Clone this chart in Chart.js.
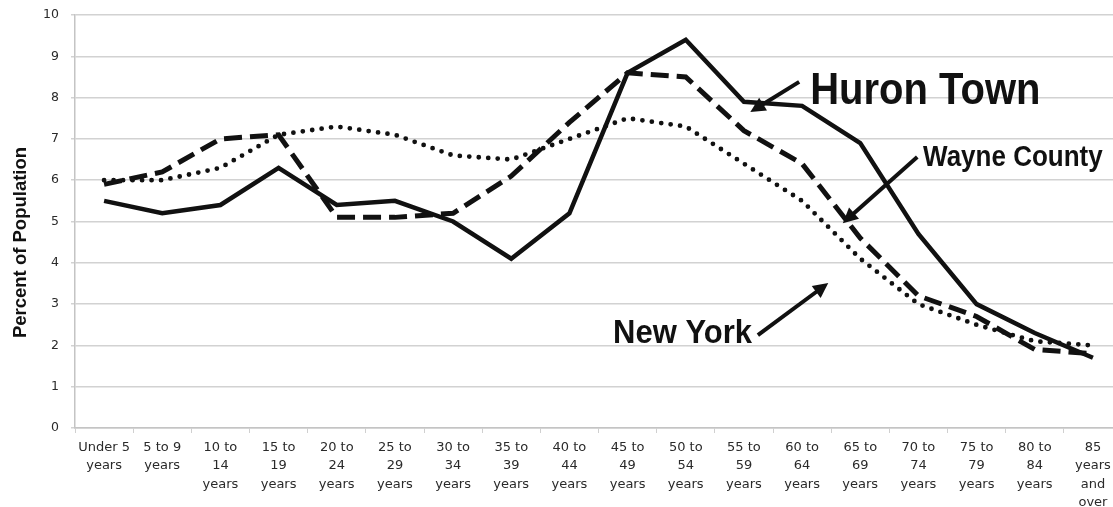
<!DOCTYPE html>
<html>
<head>
<meta charset="utf-8">
<title>Percent of Population by Age</title>
<script src="https://cdn.jsdelivr.net/npm/chart.js@4.4.1/dist/chart.umd.min.js"></script>
<style>
  html, body { margin: 0; padding: 0; background: #ffffff; overflow: hidden; }
  #wrap { width: 1126px; height: 507px; }
</style>
</head>
<body>
<div id="wrap"><canvas id="chart" width="1126" height="507"></canvas></div>
<script>
// Age groups (multi-line axis labels)
const ageGroups = [
  ["Under 5", "years"], ["5 to 9", "years"], ["10 to", "14", "years"], ["15 to", "19", "years"],
  ["20 to", "24", "years"], ["25 to", "29", "years"], ["30 to", "34", "years"], ["35 to", "39", "years"],
  ["40 to", "44", "years"], ["45 to", "49", "years"], ["50 to", "54", "years"], ["55 to", "59", "years"],
  ["60 to", "64", "years"], ["65 to", "69", "years"], ["70 to", "74", "years"], ["75 to", "79", "years"],
  ["80 to", "84", "years"], ["85", "years", "and", "over"]
];

// Percent of population in each age group
const huronTown   = [5.5, 5.2, 5.4, 6.3, 5.4, 5.5, 5.0, 4.1, 5.2, 8.6, 9.4, 7.9, 7.8, 6.9, 4.7, 3.0, 2.3, 1.7];
const wayneCounty = [5.9, 6.2, 7.0, 7.1, 5.1, 5.1, 5.2, 6.1, 7.4, 8.6, 8.5, 7.2, 6.4, 4.6, 3.2, 2.7, 1.9, 1.8];
const newYork     = [6.0, 6.0, 6.3, 7.1, 7.3, 7.1, 6.6, 6.5, 7.0, 7.5, 7.3, 6.4, 5.5, 4.1, 3.0, 2.5, 2.1, 2.0];

// Value axis range
const yMin = 0, yMax = 10, yStep = 1;
const yTitle = 'Percent of Population';

// Callout labels with arrows, placed in axis units (category index, percent)
const callouts = [
  { text: "Huron Town",   size: 40, stretch: 1.12, textAt: [12.14, 7.85], from: [11.95, 8.38], to: [11.11, 7.65] },
  { text: "Wayne County", size: 26, stretch: 1.13, textAt: [14.08, 6.34], from: [13.98, 6.56], to: [12.70, 4.96] },
  { text: "New York",     size: 31, stretch: 1.05, textAt: [8.75, 2.06],  from: [11.24, 2.25], to: [12.45, 3.51] }
];

const calloutPlugin = {
  id: 'callouts',
  afterDatasetsDraw(chart) {
    const { ctx, scales: { x, y } } = chart;
    ctx.save();
    for (const c of callouts) {
      const x0 = x.getPixelForValue(c.from[0]), y0 = y.getPixelForValue(c.from[1]);
      const x1 = x.getPixelForValue(c.to[0]),   y1 = y.getPixelForValue(c.to[1]);
      const ang = Math.atan2(y1 - y0, x1 - x0);
      const headLen = 15, headHalf = 7.5;
      // shaft
      ctx.strokeStyle = '#111';
      ctx.lineWidth = 4;
      ctx.lineCap = 'butt';
      ctx.beginPath();
      ctx.moveTo(x0, y0);
      ctx.lineTo(x1 - Math.cos(ang) * (headLen - 2), y1 - Math.sin(ang) * (headLen - 2));
      ctx.stroke();
      // head
      ctx.fillStyle = '#111';
      ctx.beginPath();
      ctx.moveTo(x1, y1);
      ctx.lineTo(x1 - Math.cos(ang) * headLen - Math.sin(ang) * headHalf,
                 y1 - Math.sin(ang) * headLen + Math.cos(ang) * headHalf);
      ctx.lineTo(x1 - Math.cos(ang) * headLen + Math.sin(ang) * headHalf,
                 y1 - Math.sin(ang) * headLen - Math.cos(ang) * headHalf);
      ctx.closePath();
      ctx.fill();
      // label
      const tx = x.getPixelForValue(c.textAt[0]), ty = y.getPixelForValue(c.textAt[1]);
      ctx.save();
      ctx.translate(tx, ty);
      ctx.scale(1, c.stretch);
      ctx.font = `bold ${c.size}px "Liberation Sans", Arial, sans-serif`;
      ctx.textAlign = 'left';
      ctx.textBaseline = 'alphabetic';
      ctx.fillStyle = '#111';
      ctx.fillText(c.text, 0, 0);
      ctx.restore();
    }
    ctx.restore();
  }
};

// Rotated value-axis title, sitting a little below the plot's middle
const axisTitlePlugin = {
  id: 'axisTitle',
  afterDraw(chart) {
    const { ctx, chartArea } = chart;
    const cy = (chartArea.top + chartArea.bottom) / 2 + 21;
    ctx.save();
    ctx.translate(21, cy);
    ctx.rotate(-Math.PI / 2);
    ctx.font = 'bold 18.5px "Liberation Sans", Arial, sans-serif';
    ctx.textAlign = 'center';
    ctx.textBaseline = 'middle';
    ctx.fillStyle = '#111';
    ctx.fillText(yTitle, 0, 0);
    ctx.restore();
  }
};

new Chart(document.getElementById('chart'), {
  type: 'line',
  data: {
    labels: ageGroups,
    datasets: [
      {
        label: 'Huron Town', data: huronTown,
        borderColor: '#111', borderWidth: 4.5, borderJoinStyle: 'miter',
        pointRadius: 0, tension: 0, fill: false
      },
      {
        label: 'Wayne County', data: wayneCounty,
        borderColor: '#111', borderWidth: 5, borderDash: [18, 8], borderCapStyle: 'butt',
        pointRadius: 0, tension: 0, fill: false
      },
      {
        label: 'New York', data: newYork,
        borderColor: '#111', borderWidth: 4.8, borderDash: [0, 9.5], borderCapStyle: 'round',
        pointRadius: 0, tension: 0, fill: false
      }
    ]
  },
  options: {
    responsive: false,
    devicePixelRatio: 1,
    animation: false,
    layout: { padding: { top: 15, right: 4, bottom: 0, left: 44 } },
    plugins: {
      legend: { display: false },
      tooltip: { enabled: false }
    },
    scales: {
      x: {
        type: 'category',
        offset: true,
        grid: { offset: true, drawOnChartArea: false, drawTicks: true, tickLength: 5, color: '#d0d0d0', lineWidth: 1 },
        border: { display: true, color: '#c4c4c4', width: 1.5 },
        ticks: {
          autoSkip: false, maxRotation: 0, minRotation: 0, padding: 5,
          color: '#2a2a2a',
          font: { family: '"DejaVu Sans", sans-serif', size: 13, lineHeight: 1.42 }
        },
        afterFit(scale) { scale.height = 79; }
      },
      y: {
        min: yMin, max: yMax,
        grid: { color: '#d2d2d2', lineWidth: 1.5, drawTicks: true, tickLength: 4 },
        border: { display: true, color: '#c4c4c4', width: 1.5 },
        ticks: {
          stepSize: yStep, padding: 12, color: '#2a2a2a',
          font: { family: '"DejaVu Sans", sans-serif', size: 12.5 }
        },
        afterFit(scale) {
          scale.width = 31;
          scale.paddingTop = 0;
          scale.paddingBottom = 0;
        }
      }
    }
  },
  plugins: [calloutPlugin, axisTitlePlugin]
});
</script>
</body>
</html>
